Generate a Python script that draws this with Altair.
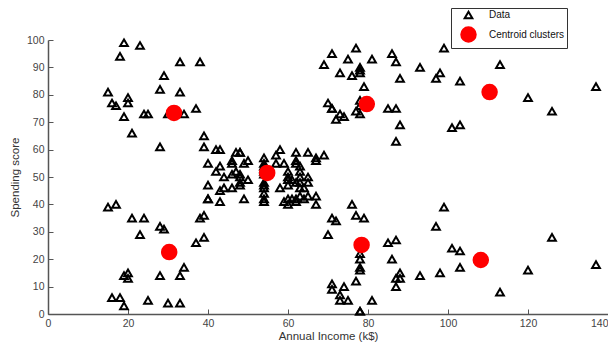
import altair as alt
import pandas as pd

# Mall customers: annual income (k$) and spending score
income = [15, 15, 16, 16, 17, 17, 18, 18, 19, 19, 19, 19, 20, 20, 20, 20, 21, 21, 23, 23,
          24, 24, 25, 25, 28, 28, 28, 28, 29, 29, 30, 30, 33, 33, 33, 33, 34, 34, 37, 37,
          38, 38, 39, 39, 39, 39, 40, 40, 40, 40, 42, 42, 43, 43, 43, 43, 44, 44, 46, 46,
          46, 46, 47, 47, 48, 48, 48, 48, 48, 48, 49, 49, 50, 50, 54, 54, 54, 54, 54, 54,
          54, 54, 54, 54, 54, 54, 57, 57, 58, 58, 59, 59, 60, 60, 60, 60, 60, 60, 61, 61,
          62, 62, 62, 62, 62, 62, 63, 63, 63, 63, 63, 63, 64, 64, 65, 65, 65, 65, 67, 67,
          67, 67, 69, 69, 70, 70, 71, 71, 71, 71, 71, 71, 72, 72, 73, 73, 73, 73, 74, 74,
          75, 75, 76, 76, 77, 77, 77, 77, 78, 78, 78, 78, 78, 78, 78, 78, 78, 78, 78, 78,
          79, 79, 81, 81, 85, 85, 86, 86, 87, 87, 87, 87, 87, 87, 88, 88, 88, 88, 93, 93,
          97, 97, 98, 98, 99, 99, 101, 101, 103, 103, 103, 103, 113, 113, 120, 120, 126, 126, 137, 137]
score = [39, 81, 6, 77, 40, 76, 6, 94, 3, 72, 14, 99, 15, 77, 13, 79, 35, 66, 29, 98,
         35, 73, 5, 73, 14, 82, 32, 61, 31, 87, 4, 73, 4, 92, 14, 81, 17, 73, 26, 75,
         35, 92, 36, 61, 28, 65, 55, 47, 42, 42, 52, 60, 54, 60, 45, 41, 50, 46, 51, 46,
         56, 55, 52, 59, 51, 59, 50, 48, 59, 47, 55, 42, 49, 56, 47, 54, 53, 48, 52, 42,
         51, 55, 41, 44, 57, 46, 58, 55, 60, 46, 55, 41, 49, 40, 42, 52, 47, 50, 42, 49,
         41, 48, 59, 55, 56, 42, 50, 46, 43, 48, 52, 54, 42, 46, 48, 50, 43, 59, 43, 57,
         56, 40, 58, 91, 29, 77, 35, 95, 11, 75, 9, 75, 34, 71, 5, 88, 7, 73, 10, 72,
         5, 93, 40, 87, 12, 97, 36, 74, 22, 90, 17, 88, 20, 76, 16, 89, 1, 78, 1, 73,
         35, 83, 5, 93, 26, 75, 20, 95, 27, 63, 13, 75, 10, 92, 13, 86, 15, 69, 14, 90,
         32, 86, 15, 88, 39, 97, 24, 68, 17, 85, 23, 69, 8, 91, 16, 79, 28, 74, 18, 83]

# Centroids
centroid_x = [31.5, 54.8, 79.7, 110.4, 78.4, 108.2, 30.3]
centroid_y = [73.4, 51.5, 76.6, 81.0, 25.2, 19.7, 22.6]

series_names = ["Data", "Centroid clusters"]
x_ticks = [0, 20, 40, 60, 80, 100, 120, 140]
y_ticks = [0, 10, 20, 30, 40, 50, 60, 70, 80, 90, 100]

df = pd.DataFrame({
    "x": income + centroid_x,
    "y": score + centroid_y,
    "series": ["Data"] * len(income) + ["Centroid clusters"] * len(centroid_x),
})

legend = alt.Legend(
    title=None, orient="none", legendX=403, legendY=-32,
    strokeColor="#333333", fillColor="white", padding=2,
    labelFont="Liberation Sans", labelFontSize=10, labelColor="#111111",
    symbolStrokeWidth=2, rowPadding=0, labelOffset=12,
    symbolOffset=7,
)

axis_common = dict(
    grid=False, domainColor="#555555", domainWidth=1.5, tickColor="#555555",
    tickSize=alt.ExprRef("-5"), tickWidth=1,
    labelFont="Liberation Sans", labelFontSize=10.5, labelColor="#444444",
    titleFont="Liberation Sans", titleFontSize=11.5, titleFontWeight="normal",
    titleColor="#333333",
)

chart = alt.Chart(df).mark_point(strokeWidth=2, opacity=1).encode(
    x=alt.X("x:Q", scale=alt.Scale(domain=[0, 140], nice=False, zero=True),
            axis=alt.Axis(values=x_ticks, title="Annual Income (k$)", labelPadding=9,
                          titlePadding=2,
                          labelAlign=alt.condition("datum.value >= 140", alt.value("right"), alt.value("center")),
                          **axis_common)),
    y=alt.Y("y:Q", scale=alt.Scale(domain=[0, 100], nice=False),
            axis=alt.Axis(values=y_ticks, title="Spending score", labelPadding=9,
                          titlePadding=6, **axis_common)),
    shape=alt.Shape("series:N", scale=alt.Scale(domain=series_names, range=["triangle-up", "circle"]), legend=legend),
    fill=alt.Fill("series:N", scale=alt.Scale(domain=series_names, range=["transparent", "#ff0000"]), legend=legend),
    stroke=alt.Stroke("series:N", scale=alt.Scale(domain=series_names, range=["#000000", "#ff0000"]), legend=legend),
    size=alt.Size("series:N", scale=alt.Scale(domain=series_names, range=[60, 210]), legend=legend),
).properties(
    width=560, height=274,
    autosize=alt.AutoSizeParams(type="none"),
    padding={"left": 40, "right": 0, "top": 32, "bottom": 29},
).configure_view(stroke=None)

chart.save("out.html", embed_options={"renderer": "svg", "actions": False})
